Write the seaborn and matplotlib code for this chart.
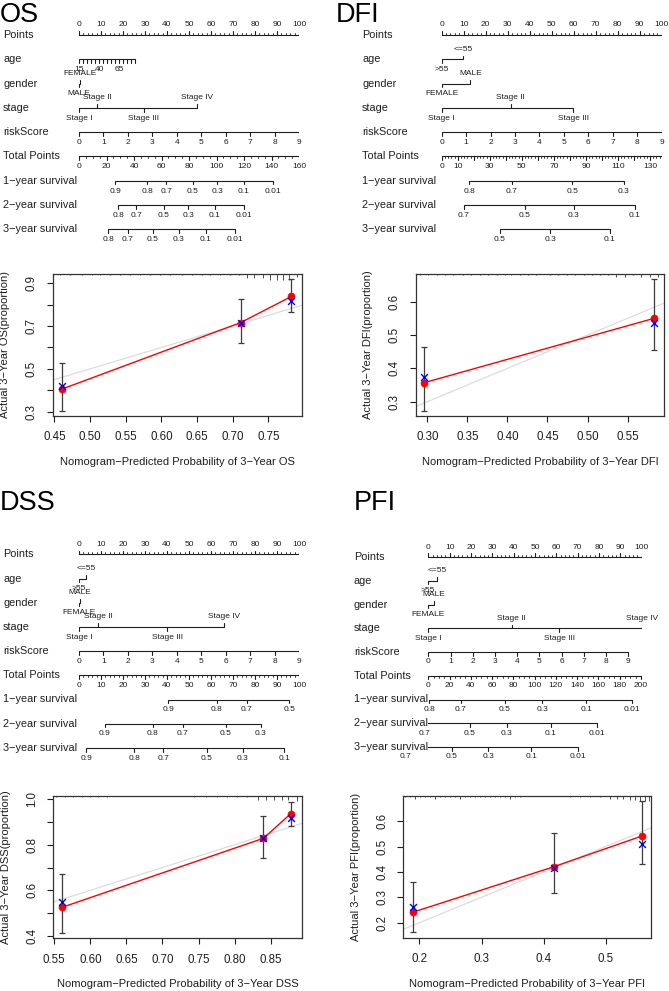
import numpy as np
import matplotlib
matplotlib.use("Agg")
import matplotlib.pyplot as plt
import matplotlib.transforms as mtrans
import seaborn as sns

W, H = 669, 991

# ---------------- nomogram data (positions on the 0-100 Points scale) ----------------
row_names = ['Points', 'age', 'gender', 'stage', 'riskScore', 'Total Points',
             '1\u2212year survival', '2\u2212year survival', '3\u2212year survival']

# OS
os_age_range = [15, 85]
os_age_labels = [15, 40, 65]
os_age_max_pts = 25.5
os_gender = ['MALE', 'FEMALE']
os_gender_pts = [0, 0.6]
os_stage = ['Stage I', 'Stage II', 'Stage III', 'Stage IV']
os_stage_pts = [0, 8.2, 29.5, 53.6]
os_risk_max_pts = 100
os_total_max = 160
os_total_labels = [0, 20, 40, 60, 80, 100, 120, 140, 160]
os_s1_labels = ['0.9', '0.8', '0.7', '0.5', '0.3', '0.1', '0.01']
os_s1_total = [26.2, 49.5, 63.3, 82.9, 100.4, 120, 141.1]
os_s2_labels = ['0.8', '0.7', '0.5', '0.3', '0.1', '0.01']
os_s2_total = [28.4, 41.5, 61.8, 79.3, 98.9, 120]
os_s3_labels = ['0.8', '0.7', '0.5', '0.3', '0.1', '0.01']
os_s3_total = [21.1, 35.6, 53.8, 72.7, 92.4, 113.5]

# DFI
dfi_age = ['>55', '<=55']
dfi_age_pts = [0, 9.8]
dfi_gender = ['FEMALE', 'MALE']
dfi_gender_pts = [0, 13]
dfi_stage = ['Stage I', 'Stage II', 'Stage III']
dfi_stage_pts = [0, 31.4, 59.8]
dfi_risk_max_pts = 100
dfi_total_max = 137.3
dfi_total_labels = [0, 10, 30, 50, 70, 90, 110, 130]
dfi_s1_labels = ['0.8', '0.7', '0.5', '0.3']
dfi_s1_total = [17.1, 43.7, 81.6, 113.5]
dfi_s2_labels = ['0.7', '0.5', '0.3', '0.1']
dfi_s2_total = [13.9, 52.0, 82.3, 120.4]
dfi_s3_labels = ['0.5', '0.3', '0.1']
dfi_s3_total = [36.4, 67.7, 104.8]

# DSS
dss_age = ['>55', '<=55']
dss_age_pts = [0, 3.2]
dss_gender = ['FEMALE', 'MALE']
dss_gender_pts = [0, 0.5]
dss_stage = ['Stage I', 'Stage II', 'Stage III', 'Stage IV']
dss_stage_pts = [0, 8.8, 40.2, 66.0]
dss_risk_max_pts = 100
dss_total_max = 100
dss_total_labels = [0, 10, 20, 30, 40, 50, 60, 70, 80, 90, 100]
dss_s1_labels = ['0.9', '0.8', '0.7', '0.5']
dss_s1_total = [40.6, 62.6, 76.2, 95.6]
dss_s2_labels = ['0.9', '0.8', '0.7', '0.5', '0.3']
dss_s2_total = [11.8, 33.5, 47.1, 66.7, 82.7]
dss_s3_labels = ['0.9', '0.8', '0.7', '0.5', '0.3', '0.1']
dss_s3_total = [3.2, 25.2, 38.3, 58.0, 74.4, 93.3]

# PFI
pfi_age = ['>55', '<=55']
pfi_age_pts = [0, 4.2]
pfi_gender = ['FEMALE', 'MALE']
pfi_gender_pts = [0, 2.7]
pfi_stage = ['Stage I', 'Stage II', 'Stage III', 'Stage IV']
pfi_stage_pts = [0, 39.1, 61.3, 100]
pfi_risk_max_pts = 93.75
pfi_total_max = 200.8
pfi_total_labels = [0, 20, 40, 60, 80, 100, 120, 140, 160, 180, 200]
pfi_s1_labels = ['0.8', '0.7', '0.5', '0.3', '0.1', '0.01']
pfi_s1_total = [1.0, 30.7, 71.9, 107.2, 148.5, 191.6]
pfi_s2_labels = ['0.7', '0.5', '0.3', '0.1', '0.01']
pfi_s2_total = [-3.7, 39.0, 74.0, 115.0, 158.8]
pfi_s3_labels = ['0.7', '0.5', '0.3', '0.1', '0.01']
pfi_s3_total = [-21.0, 22.0, 56.3, 97.0, 140.6]

# ---------------- calibration data ----------------
os_pred = [0.460, 0.711, 0.782]
os_obs = [0.405, 0.716, 0.838]
os_km = [0.418, 0.713, 0.817]
os_lo = [0.305, 0.622, 0.765]
os_hi = [0.529, 0.825, 0.919]
os_rug_x = [0.458, 0.472, 0.488, 0.502, 0.514, 0.528, 0.542, 0.556, 0.570, 0.584,
            0.598, 0.612, 0.629, 0.643, 0.657, 0.668, 0.682, 0.696, 0.708, 0.720,
            0.730, 0.742, 0.752, 0.762, 0.771, 0.779, 0.790]
os_rug_n = [1, 1, 1, 1, 1, 1, 1, 1, 1, 1, 1, 1, 1, 1, 1, 1, 1, 1, 1, 3,
            3, 3, 4, 4, 4, 4, 2]

dfi_pred = [0.296, 0.583]
dfi_obs = [0.357, 0.550]
dfi_km = [0.373, 0.537]
dfi_lo = [0.272, 0.455]
dfi_hi = [0.465, 0.667]
dfi_rug_x = [0.291, 0.301, 0.312, 0.322, 0.332, 0.345, 0.355, 0.366, 0.376, 0.387,
             0.397, 0.405, 0.416, 0.426, 0.436, 0.453, 0.463, 0.474, 0.484, 0.495,
             0.505, 0.516, 0.526, 0.536, 0.547, 0.557, 0.567, 0.578, 0.588]
dfi_rug_n = [1, 1, 1, 1, 1, 1, 1, 1, 1, 1, 1, 1, 1, 1, 1, 1, 1, 1, 1, 1,
             1, 1, 1, 2, 2, 1, 2, 2, 2]

dss_pred = [0.561, 0.840, 0.878]
dss_obs = [0.526, 0.828, 0.936]
dss_km = [0.548, 0.828, 0.918]
dss_lo = [0.414, 0.743, 0.883]
dss_hi = [0.670, 0.926, 0.988]
dss_rug_x = [0.553, 0.565, 0.576, 0.588, 0.599, 0.611, 0.623, 0.743, 0.761, 0.775,
             0.789, 0.803, 0.817, 0.833, 0.844, 0.855, 0.865, 0.874, 0.886]
dss_rug_n = [1, 1, 1, 1, 1, 1, 1, 1, 1, 1, 1, 1, 1, 3, 3, 3, 3, 3, 4]

pfi_pred = [0.189, 0.416, 0.558]
pfi_obs = [0.241, 0.420, 0.541]
pfi_km = [0.263, 0.414, 0.508]
pfi_lo = [0.162, 0.316, 0.431]
pfi_hi = [0.361, 0.554, 0.680]
pfi_rug_x = [0.177, 0.185, 0.193, 0.201, 0.209, 0.217, 0.225, 0.233, 0.241, 0.249,
             0.257, 0.266, 0.274, 0.282, 0.290, 0.298, 0.306, 0.314, 0.322, 0.330,
             0.338, 0.346, 0.354, 0.362, 0.443, 0.459, 0.475, 0.491, 0.507, 0.518,
             0.528, 0.539, 0.547, 0.555, 0.563, 0.570]
pfi_rug_n = [1, 1, 2, 1, 1, 1, 2, 1, 1, 1, 1, 2, 1, 1, 1, 1, 1, 1, 1, 1,
             1, 2, 1, 1, 1, 1, 1, 1, 2, 2, 2, 3, 3, 4, 4, 4]

# ---------------- style ----------------
sns.set_style('ticks')
plt.rcParams['font.family'] = ['Liberation Sans', 'DejaVu Sans']
INK = '#1e1e1e'

fig = plt.figure(figsize=(W / 100, H / 100), dpi=100)


def px_axes(x0, y0, x1, y1):
    return fig.add_axes([x0 / W, 1 - y1 / H, (x1 - x0) / W, (y1 - y0) / H])


def draw_row(ax, i, pts, labels, side, minor=(), ends=None):
    d = -1 if side == 'above' else 1
    lo, hi = (min(pts), max(pts)) if ends is None else ends
    ax.plot([lo, hi], [i, i], color=INK, lw=0.8, solid_capstyle='butt')
    for p in minor:
        ax.plot([p, p], [i, i + d * 0.08], color=INK, lw=0.6)
    for p, lab in zip(pts, labels):
        ax.plot([p, p], [i, i + d * 0.15], color=INK, lw=0.8)
        if lab:
            ax.text(p, i + d * 0.42, lab, ha='center', va='center', fontsize=6, color=INK)


def draw_cat_row(ax, i, pts, labels, sides):
    ax.plot([min(pts), max(pts)], [i, i], color=INK, lw=0.8, solid_capstyle='butt')
    for p, lab, s in zip(pts, labels, sides):
        d = -1 if s == 'above' else 1
        ax.plot([p, p], [i, i + d * 0.15], color=INK, lw=0.8)
        ax.text(p, i + d * 0.42, lab, ha='center', va='center', fontsize=6, color=INK)


def nomogram(box, label_x, cfg):
    x0, x1, row0, step = box
    ax = px_axes(x0, row0 - step / 2, x1, row0 + 8.5 * step)
    ax.set_xlim(0, 100)
    ax.set_ylim(8.5, -0.5)
    ax.axis('off')
    tr = mtrans.blended_transform_factory(fig.transFigure, ax.transData)
    for i, name in enumerate(row_names):
        ax.text(label_x / W, i, name, transform=tr, ha='left', va='center',
                fontsize=7.8, color=INK)

    # Points
    pts = np.arange(0, 101, 10)
    draw_row(ax, 0, pts, [str(v) for v in pts], 'above', minor=np.arange(0, 101, 2))

    # age
    if 'age_range' in cfg:
        a0, a1 = cfg['age_range']
        ages = np.arange(a0, a1 + 1, 5)
        apts = (ages - a0) / (a1 - a0) * cfg['age_max']
        draw_row(ax, 1, apts, [str(a) if a in cfg['age_labels'] else '' for a in ages], 'below')
    else:
        draw_cat_row(ax, 1, cfg['age_pts'], cfg['age'], ['below', 'above'])

    draw_cat_row(ax, 2, cfg['gender_pts'], cfg['gender'], ['below', 'above'])
    draw_cat_row(ax, 3, cfg['stage_pts'], cfg['stage'],
                 ['below', 'above', 'below', 'above'][:len(cfg['stage'])])

    # riskScore
    rs = np.arange(0, 10)
    draw_row(ax, 4, rs / 9 * cfg['risk_max'], [str(v) for v in rs], 'below')

    # Total Points
    tmax = cfg['total_max']
    scale = 100 / tmax
    tlab = cfg['total_labels']
    majors = np.arange(0, max(tlab) + 1, 10 if tlab[1] - tlab[0] <= 10 else 20)
    draw_row(ax, 5, majors * scale, [str(v) if v in tlab else '' for v in majors], 'below',
             minor=np.arange(0, tmax + 0.1, cfg['total_minor']) * scale, ends=(0, 100))

    for k, (labs, tot) in enumerate(cfg['surv']):
        draw_row(ax, 6 + k, np.array(tot) * scale, labs, 'below')


def calib(box, name, pred, obs, km, lo, hi, rug_x, rug_n, xlim, ylim, xticks, xlabels,
          yticks, ylabels):
    ax = px_axes(*box)
    ax.axline((0, 0), (1, 1), color='#dcdcdc', lw=0.9, zorder=1)
    obs = np.array(obs)
    ax.errorbar(pred, obs, yerr=[obs - np.array(lo), np.array(hi) - obs], fmt='none',
                ecolor='#3c3c3c', elinewidth=0.9, capsize=2.4, capthick=0.9, zorder=2)
    sns.lineplot(x=pred, y=obs, color='red', lw=1.0, ax=ax, zorder=3)
    sns.scatterplot(x=pred, y=obs, color='red', s=26, edgecolor='red', ax=ax, zorder=4)
    sns.scatterplot(x=pred, y=km, marker='x', color='blue', s=24, linewidth=1.0, ax=ax,
                    zorder=5)
    bh = box[3] - box[1]
    tr = mtrans.blended_transform_factory(ax.transData, ax.transAxes)
    ax.vlines(rug_x, [1 - n * 1.4 / bh for n in rug_n], 1, transform=tr, color='#333333',
              lw=0.6)
    ax.set_xlim(*xlim)
    ax.set_ylim(*ylim)
    ax.set_xticks(xticks)
    ax.set_xticklabels(xlabels)
    ax.set_yticks(yticks)
    ax.set_yticklabels(ylabels, rotation=90, va='center')
    ax.tick_params(direction='out', length=4, width=0.8, labelsize=8.3, colors=INK, pad=7)
    for s in ax.spines.values():
        s.set_color('#333333')
        s.set_linewidth(0.9)
    ax.set_xlabel('Nomogram\u2212Predicted Probability of 3\u2212Year ' + name, fontsize=8,
                  labelpad=10, color=INK)
    ax.set_ylabel('Actual 3\u2212Year ' + name + '(proportion)', fontsize=8, labelpad=11,
                  color=INK)


# ---------------- nomograms ----------------
nomogram((79, 299, 35, 24.3), 3, dict(
    age_range=os_age_range, age_labels=os_age_labels, age_max=os_age_max_pts,
    gender=os_gender, gender_pts=os_gender_pts, stage=os_stage, stage_pts=os_stage_pts,
    risk_max=os_risk_max_pts, total_max=os_total_max, total_labels=os_total_labels,
    total_minor=5,
    surv=[(os_s1_labels, os_s1_total), (os_s2_labels, os_s2_total),
          (os_s3_labels, os_s3_total)]))

nomogram((441.7, 661.7, 35, 24.3), 362, dict(
    age=dfi_age, age_pts=dfi_age_pts,
    gender=dfi_gender, gender_pts=dfi_gender_pts, stage=dfi_stage, stage_pts=dfi_stage_pts,
    risk_max=dfi_risk_max_pts, total_max=dfi_total_max, total_labels=dfi_total_labels,
    total_minor=2,
    surv=[(dfi_s1_labels, dfi_s1_total), (dfi_s2_labels, dfi_s2_total),
          (dfi_s3_labels, dfi_s3_total)]))

nomogram((79, 299, 554.3, 24.2), 3, dict(
    age=dss_age, age_pts=dss_age_pts,
    gender=dss_gender, gender_pts=dss_gender_pts, stage=dss_stage, stage_pts=dss_stage_pts,
    risk_max=dss_risk_max_pts, total_max=dss_total_max, total_labels=dss_total_labels,
    total_minor=2,
    surv=[(dss_s1_labels, dss_s1_total), (dss_s2_labels, dss_s2_total),
          (dss_s3_labels, dss_s3_total)]))

nomogram((428.3, 641.7, 557, 23.75), 354, dict(
    age=pfi_age, age_pts=pfi_age_pts,
    gender=pfi_gender, gender_pts=pfi_gender_pts, stage=pfi_stage, stage_pts=pfi_stage_pts,
    risk_max=pfi_risk_max_pts, total_max=pfi_total_max, total_labels=pfi_total_labels,
    total_minor=5,
    surv=[(pfi_s1_labels, pfi_s1_total), (pfi_s2_labels, pfi_s2_total),
          (pfi_s3_labels, pfi_s3_total)]))

# ---------------- calibration curves ----------------
calib((53, 274, 302, 416), 'OS', os_pred, os_obs, os_km, os_lo, os_hi, os_rug_x, os_rug_n,
      (0.448, 0.797), (0.28, 0.943),
      [0.45, 0.50, 0.55, 0.60, 0.65, 0.70, 0.75],
      ['0.45', '0.50', '0.55', '0.60', '0.65', '0.70', '0.75'],
      [0.3, 0.4, 0.5, 0.6, 0.7, 0.8, 0.9], ['0.3', '', '0.5', '', '0.7', '', '0.9'])

calib((415.7, 274, 664, 415.7), 'DFI', dfi_pred, dfi_obs, dfi_km, dfi_lo, dfi_hi,
      dfi_rug_x, dfi_rug_n, (0.2855, 0.5955), (0.258, 0.683),
      [0.30, 0.35, 0.40, 0.45, 0.50, 0.55],
      ['0.30', '0.35', '0.40', '0.45', '0.50', '0.55'],
      [0.3, 0.4, 0.5, 0.6], ['0.3', '0.4', '0.5', '0.6'])

calib((53.3, 795.7, 301.7, 938.3), 'DSS', dss_pred, dss_obs, dss_km, dss_lo, dss_hi,
      dss_rug_x, dss_rug_n, (0.5486, 0.893), (0.39, 1.0145),
      [0.55, 0.60, 0.65, 0.70, 0.75, 0.80, 0.85],
      ['0.55', '0.60', '0.65', '0.70', '0.75', '0.80', '0.85'],
      [0.4, 0.5, 0.6, 0.7, 0.8, 0.9, 1.0], ['0.4', '', '0.6', '', '0.8', '', '1.0'])

calib((403.3, 795.7, 651, 937.7), 'PFI', pfi_pred, pfi_obs, pfi_km, pfi_lo, pfi_hi,
      pfi_rug_x, pfi_rug_n, (0.174, 0.573), (0.141, 0.70),
      [0.2, 0.3, 0.4, 0.5], ['0.2', '0.3', '0.4', '0.5'],
      [0.2, 0.3, 0.4, 0.5, 0.6], ['0.2', '0.3', '0.4', '0.5', '0.6'])

# ---------------- panel titles ----------------
for txt, x, y in [('OS', 0, 22), ('DFI', 336, 22), ('DSS', 0, 510), ('PFI', 354, 510)]:
    fig.text(x / W, 1 - y / H, txt, fontsize=19.5, color='black', ha='left', va='baseline')

fig.savefig('out.png', dpi=100)
